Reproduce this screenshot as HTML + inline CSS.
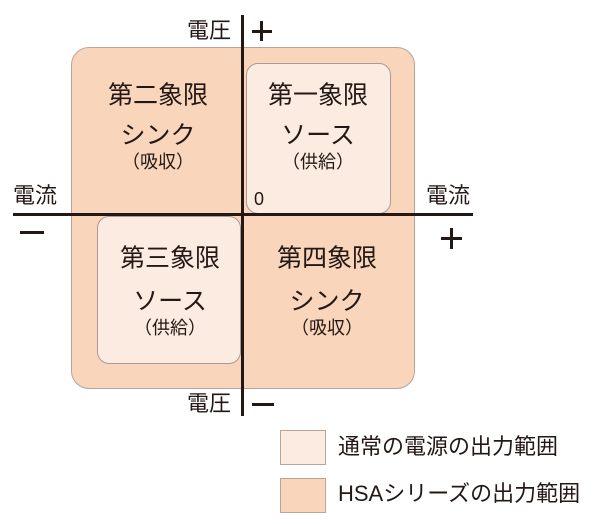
<!DOCTYPE html>
<html><head><meta charset="utf-8"><style>
body{margin:0;background:#fff;}
.w{position:relative;width:600px;height:524px;overflow:hidden;font-family:"Liberation Sans","Noto Sans CJK JP",sans-serif;color:#231815;}
.a{position:absolute;}
.t{position:absolute;white-space:nowrap;transform:translate(-50%,-50%);text-align:center;line-height:1;}
.k{position:absolute;background:#231815;}
</style></head><body><div class="w">
<div class="a" style="left:71px;top:47px;width:342px;height:340px;background:#f9d6bb;border:1px solid #b9a49a;border-radius:18px;"></div>
<div class="a" style="left:246px;top:63px;width:143px;height:149px;background:#fcebe1;border:1px solid #a99;border-radius:12px;"></div>
<div class="a" style="left:97px;top:216px;width:142px;height:146px;background:#fcebe1;border:1px solid #a99;border-radius:12px;"></div>
<div class="k" style="left:241px;top:15px;width:3px;height:401px;"></div>
<div class="k" style="left:13px;top:213px;width:460px;height:3px;"></div>

<div class="t" style="left:209px;top:31px;font-size:22px;">電圧</div>
<div class="k" style="left:252px;top:30px;width:20px;height:3px;"></div>
<div class="k" style="left:260px;top:21px;width:3px;height:20px;"></div>
<div class="t" style="left:209px;top:404px;font-size:22px;">電圧</div>
<div class="k" style="left:252px;top:403px;width:22px;height:3px;"></div>
<div class="t" style="left:35px;top:196px;font-size:22px;">電流</div>
<div class="t" style="left:448px;top:196px;font-size:22px;">電流</div>
<div class="k" style="left:20px;top:231px;width:24px;height:3px;"></div>
<div class="k" style="left:441px;top:237px;width:21px;height:3px;"></div>
<div class="k" style="left:450px;top:228px;width:3px;height:21px;"></div>
<div class="t" style="left:259px;top:199px;font-size:18px;">0</div>

<div class="t" style="left:158px;top:96px;font-size:25px;">第二象限</div>
<div class="t" style="left:158px;top:136px;font-size:25px;">シンク</div>
<div class="t" style="left:158px;top:162px;font-size:18px;">（吸収）</div>
<div class="t" style="left:318px;top:96px;font-size:25px;">第一象限</div>
<div class="t" style="left:318px;top:136px;font-size:25px;">ソース</div>
<div class="t" style="left:318px;top:162px;font-size:18px;">（供給）</div>
<div class="t" style="left:170px;top:259px;font-size:25px;">第三象限</div>
<div class="t" style="left:170px;top:302px;font-size:25px;">ソース</div>
<div class="t" style="left:170px;top:328px;font-size:18px;">（供給）</div>
<div class="t" style="left:327px;top:259px;font-size:25px;">第四象限</div>
<div class="t" style="left:327px;top:302px;font-size:25px;">シンク</div>
<div class="t" style="left:327px;top:328px;font-size:18px;">（吸収）</div>

<div class="a" style="left:280px;top:430px;width:44px;height:33px;background:#fcebe1;border:1px solid #b9a49a;"></div>
<div class="a" style="left:280px;top:478px;width:44px;height:33px;background:#f9d6bb;border:1px solid #b9a49a;"></div>
<div class="a" style="left:338px;top:435px;font-size:22px;line-height:24px;white-space:nowrap;">通常の電源の出力範囲</div>
<div class="a" style="left:338px;top:482px;font-size:22px;line-height:24px;white-space:nowrap;">HSAシリーズの出力範囲</div>
</div></body></html>
